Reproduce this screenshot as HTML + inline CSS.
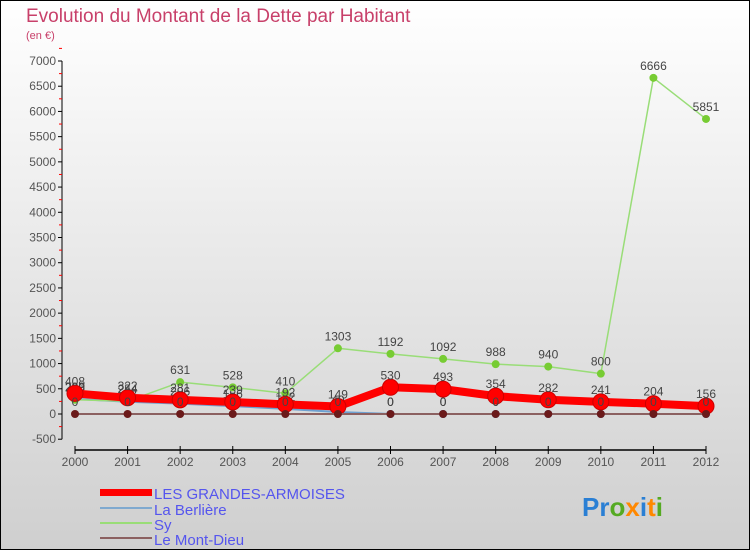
<!DOCTYPE html>
<html><head><meta charset="utf-8"><style>
body{margin:0;width:750px;height:550px;overflow:hidden}
svg{display:block;font-family:"Liberation Sans",sans-serif}
</style></head><body>
<svg width="750" height="550">
<defs><linearGradient id="bg" x1="0" y1="0" x2="0" y2="1"><stop offset="0" stop-color="#ffffff"/><stop offset="1" stop-color="#cfcfcf"/></linearGradient></defs>
<rect x="0.5" y="0.5" width="749" height="549" fill="url(#bg)" stroke="#000"/>
<text x="26" y="22" font-size="19" fill="#c8406a">Evolution du Montant de la Dette par Habitant</text>
<text x="26" y="39" font-size="11" fill="#c8406a">(en €)</text>
<g id="axes"></g><g id="plot"></g>
<g>
<rect x="100" y="489" width="52" height="7" fill="#f00"/>
<line x1="100" y1="508" x2="152" y2="508" stroke="#7fa9cf" stroke-width="2"/>
<line x1="100" y1="523" x2="152" y2="523" stroke="#99dd77" stroke-width="2"/>
<line x1="100" y1="538" x2="152" y2="538" stroke="#8b6060" stroke-width="2"/>
<g font-size="15" fill="#5555ee">
<text x="154" y="499">LES GRANDES-ARMOISES</text>
<text x="154" y="515">La Berlière</text>
<text x="154" y="530">Sy</text>
<text x="154" y="545">Le Mont-Dieu</text>
</g></g>
<text x="582" y="516" font-size="26" font-weight="bold"><tspan fill="#2a7fd4">Pr</tspan><tspan fill="#55aa22">o</tspan><tspan fill="#ff8800">x</tspan><tspan fill="#2a7fd4">i</tspan><tspan fill="#ff8800">t</tspan><tspan fill="#55aa22">i</tspan></text>
</svg>
<script>
const years=[2000,2001,2002,2003,2004,2005,2006,2007,2008,2009,2010,2011,2012];
const armoises=[408,322,281,239,192,149,530,493,354,282,241,204,156];
const berliere=[299,244,206,156,102,40,0,0,0,0,0,0,0];
const sy=[283,254,631,528,410,1303,1192,1092,988,940,800,6666,5851];
const montdieu=[0,0,0,0,0,0,0,0,0,0,0,0,0];
const yTicks=[-500,0,500,1000,1500,2000,2500,3000,3500,4000,4500,5000,5500,6000,6500,7000];
const NS='http://www.w3.org/2000/svg';
const X=i=>75+i*(706-75)/12;
const Y=v=>414-v*(414-61)/7000;
function el(t,a,p){const e=document.createElementNS(NS,t);for(const k in a)e.setAttribute(k,a[k]);p.appendChild(e);return e;}
const ax=document.getElementById('axes'),pl=document.getElementById('plot');
const ya=el('line',{x1:62,y1:Y(7000),x2:62,y2:Y(-500),stroke:'#000'},ax);


yTicks.forEach(v=>{
 el('line',{x1:58,x2:62,y1:Y(v),y2:Y(v),stroke:'#000'},ax);
 el('line',{x1:59,x2:62,y1:Y(v+250),y2:Y(v+250),stroke:'#f00'},ax);
 const t=el('text',{x:56,y:Y(v)+4,'text-anchor':'end','font-size':12,fill:'#555'},ax);
 t.textContent=v;
 
 
});
const xa=el('line',{x1:75,y1:450,x2:706,y2:450,stroke:'#000','stroke-width':1.5},ax);


years.forEach((y,i)=>{
 el('line',{x1:X(i),x2:X(i),y1:446,y2:454,stroke:'#000'},ax);
 const t=el('text',{x:X(i),y:466,'text-anchor':'middle','font-size':12,fill:'#555'},ax);
 t.textContent=y;
 
 
});
function series(vals,color,w,r,dot,name,labels){
 const g=el('g',{},pl);
 
 
 el('polyline',{points:vals.map((v,i)=>X(i)+','+Y(v)).join(' '),fill:'none',stroke:color,'stroke-width':w,'stroke-linejoin':'round'},g);
 vals.forEach((v,i)=>{
  const c=el('circle',{cx:X(i),cy:Y(v),r:r,fill:dot,stroke:dot==='#f00'?'#c00':'none'},g);
  
  
  if(labels){const t=el('text',{x:X(i),y:Y(v)-8,'text-anchor':'middle','font-size':12,fill:'#444'},g);t.textContent=v;
  
  }
 });
}
series(berliere,'#6ea0d0',2,4,'#3a8ad0','berliere',true);
series(sy,'#99dd77',1.5,4,'#77cc33','sy',true);
series(armoises,'#f00',8,8,'#f00','grandes-armoises',true);
series(montdieu,'#8b6060',2,4,'#6b1a1a','mont-dieu',true);
</script>
</body></html>
